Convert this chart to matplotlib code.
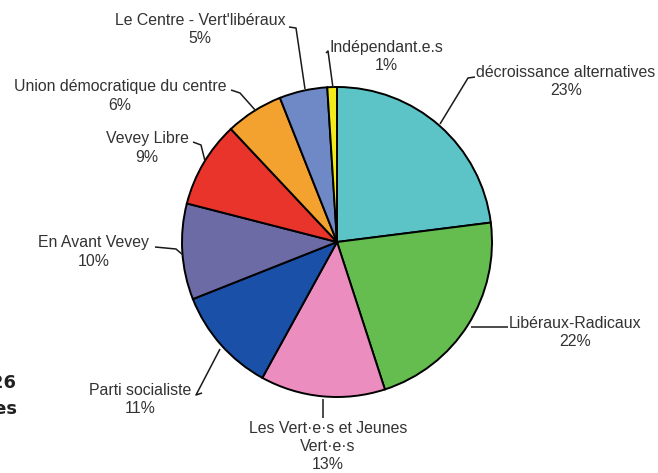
import matplotlib
matplotlib.use("Agg")
import matplotlib.pyplot as plt

# ---- data ----
parties = ["décroissance alternatives", "Libéraux-Radicaux",
           "Les Vert·e·s et Jeunes\nVert·e·s", "Parti socialiste",
           "En Avant Vevey", "Vevey Libre", "Union démocratique du centre",
           "Le Centre - Vert'libéraux", "Indépendant.e.s"]
shares = [23, 22, 13, 11, 10, 9, 6, 5, 1]
colors = ["#5CC4C6", "#66BD4F", "#EC8DC0", "#1B50A8", "#6C6BA5",
          "#E8342B", "#F3A12F", "#6F89C6", "#F2EA1A"]

W, H = 658, 473
fig = plt.figure(figsize=(W / 100, H / 100), dpi=100)
fig.patch.set_facecolor("white")
ax = fig.add_axes([0, 0, 1, 1])

def Y(y):
    return H - y

cx, cy, R = 337, 242, 155
ax.pie(shares, colors=colors, startangle=90, counterclock=False,
       center=(cx, Y(cy)), radius=R,
       wedgeprops=dict(edgecolor="black", linewidth=1.4))
ax.set_xlim(0, W)
ax.set_ylim(0, H)
ax.set_aspect("auto")
ax.axis("off")

# label layout (pixel positions, top-origin)
label_pos = [(566, 82), (575, 332), (328, 446), (140, 399), (94, 252),
             (147, 148), (120, 96), (200, 29.5), (386, 57)]
leaders = [
    [(475, 77), (468, 78), (440, 124)],
    [(508, 327), (471, 327)],
    [(323, 418), (323, 399)],
    [(202, 393), (196, 395), (220, 349)],
    [(155, 247), (176, 249), (183, 255)],
    [(193, 142), (201, 145), (205, 161)],
    [(231, 90), (240, 93), (256, 111)],
    [(289, 27), (296, 28), (305, 89)],
    [(326, 53), (328, 51), (333, 88)],
]

for name, s, (lx, ly), pts in zip(parties, shares, label_pos, leaders):
    ax.text(lx, Y(ly), f"{name}\n{s}%", ha="center", va="center",
            fontsize=11.4, family="Liberation Sans", color="#333333",
            linespacing=1.25)
    xs = [p[0] for p in pts]
    ys = [Y(p[1]) for p in pts]
    ax.plot(xs, ys, color="#1a1a1a", linewidth=1.1, solid_capstyle="butt")

# cut-off text at left edge (as in the reference crop)
ax.text(17, Y(383), "2026", ha="right", va="center", fontsize=13,
        fontweight="bold", family="DejaVu Sans", color="#222222")
ax.text(17, Y(409), "les", ha="right", va="center", fontsize=13,
        fontweight="bold", family="DejaVu Sans", color="#222222")

fig.savefig("out.png", dpi=100, facecolor="white")
